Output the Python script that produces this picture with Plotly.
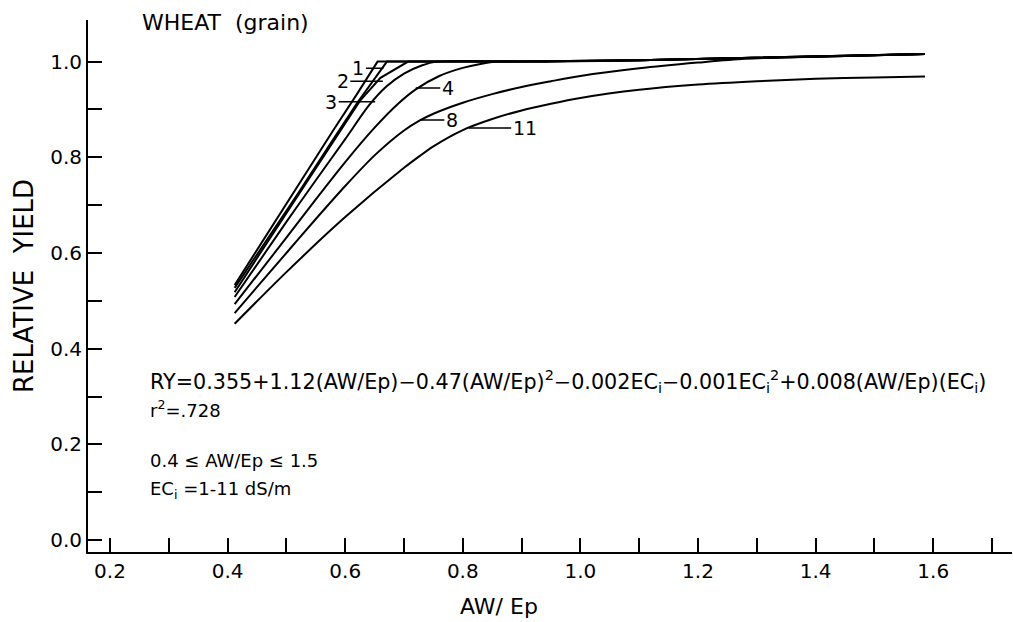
import plotly.graph_objects as go

# ---- data (AW/Ep vs relative yield) ----
curve_labels = ["1", "2", "3", "", "4", "8", "11"]

c1_x = [0.412, 0.46, 0.52, 0.58, 0.62, 0.655, 0.75, 0.9, 1.1, 1.3, 1.45, 1.586]
c1_y = [0.533, 0.626, 0.742, 0.857, 0.932, 1.0, 1.0, 1.0, 1.003, 1.008, 1.012, 1.016]

c2_x = [0.412, 0.46, 0.52, 0.58, 0.62, 0.671, 0.75, 0.9, 1.1, 1.3, 1.45, 1.586]
c2_y = [0.527, 0.615, 0.725, 0.838, 0.913, 1.0, 1.0, 1.0, 1.003, 1.008, 1.012, 1.016]

c3_x = [0.412, 0.46, 0.52, 0.58, 0.625, 0.66, 0.707, 0.8, 0.9, 1.1, 1.3, 1.45, 1.586]
c3_y = [0.518, 0.608, 0.720, 0.835, 0.918, 0.966, 1.0, 1.0, 1.0, 1.003, 1.008, 1.012, 1.016]

c4_x = [0.412, 0.5, 0.55, 0.6, 0.64, 0.67, 0.70, 0.73, 0.756, 0.9, 1.1, 1.3, 1.45, 1.586]
c4_y = [0.508, 0.665, 0.752, 0.838, 0.908, 0.948, 0.975, 0.992, 1.0, 1.0, 1.003, 1.008, 1.012, 1.016]

c5_x = [0.412, 0.5, 0.55, 0.6, 0.65, 0.69, 0.72, 0.76, 0.80, 0.83, 0.86, 0.95, 1.1, 1.3, 1.45, 1.586]
c5_y = [0.493, 0.632, 0.712, 0.790, 0.862, 0.912, 0.942, 0.970, 0.987, 0.995, 1.0, 1.0, 1.003, 1.008, 1.012, 1.016]

c6_x = [0.412, 0.5, 0.55, 0.6, 0.65, 0.7, 0.727, 0.75, 0.8, 0.85, 0.9, 0.95, 1.0, 1.1, 1.2, 1.28, 1.45, 1.586]
c6_y = [0.4745, 0.600, 0.671, 0.740, 0.804, 0.856, 0.877, 0.891, 0.914, 0.932, 0.947, 0.959, 0.970, 0.986, 0.998, 1.006, 1.012, 1.016]

c7_x = [0.412, 0.5, 0.6, 0.7, 0.727, 0.75, 0.8, 0.85, 0.9, 0.95, 1.0, 1.1, 1.2, 1.3, 1.4, 1.5, 1.586]
c7_y = [0.452, 0.560, 0.675, 0.778, 0.803, 0.823, 0.857, 0.880, 0.898, 0.912, 0.924, 0.941, 0.952, 0.959, 0.964, 0.967, 0.969]

curves_x = [c1_x, c2_x, c3_x, c4_x, c5_x, c6_x, c7_x]
curves_y = [c1_y, c2_y, c3_y, c4_y, c5_y, c6_y, c7_y]
curve_shapes = ["linear", "linear", "linear", "spline", "spline", "spline", "spline"]

# label leader tips (x, y) in data units and label offsets in px
label_points = [(0.665, 0.986), (0.664, 0.959), (0.651, 0.916), None, (0.720, 0.945), (0.727, 0.878), (0.810, 0.861)]
label_ax = [-25, -40, -44, 0, 32, 32, 56]

x_tick_vals = [0.2, 0.4, 0.6, 0.8, 1.0, 1.2, 1.4, 1.6]
y_tick_vals = [0.0, 0.2, 0.4, 0.6, 0.8, 1.0]

FONT = "DejaVu Sans"
W, H = 1013, 622
L, R, T, B = 88, 1, 20, 70
PW, PH = W - L - R, H - T - B


def px_to_paper(px, py):
    return (px - L) / PW, 1 - (py - T) / PH


fig = go.Figure()
for xs, ys, lab, shp in zip(curves_x, curves_y, curve_labels, curve_shapes):
    fig.add_trace(go.Scatter(x=xs, y=ys, mode="lines", name=lab or "EC",
                             line=dict(color="black", width=2, shape=shp, smoothing=0.8),
                             showlegend=False, hoverinfo="skip"))

for pt, lab, ax in zip(label_points, curve_labels, label_ax):
    if pt is None or not lab:
        continue
    fig.add_annotation(x=pt[0], y=pt[1], xref="x", yref="y", text=lab,
                       showarrow=True, arrowhead=0, arrowwidth=1.5, arrowcolor="black",
                       ax=ax, ay=0, standoff=0,
                       font=dict(family=FONT, size=19, color="black"))

tx, ty = px_to_paper(140, 23)
fig.add_annotation(x=tx, y=ty, xref="paper", yref="paper", xanchor="left", yanchor="middle",
                   text="WHEAT  (grain)", showarrow=False,
                   font=dict(family=FONT, size=22, color="black"))

eq_lines = [
    ("RY=0.355+1.12(AW/Ep)−0.47(AW/Ep)<sup>2</sup>−0.002EC<sub>i</sub>−0.001EC<sub>i</sub><sup>2</sup>+0.008(AW/Ep)(EC<sub>i</sub>)", 381, 20.7),
    ("r<sup>2</sup>=.728", 409, 18),
    ("0.4 ≤ AW/Ep ≤ 1.5", 460, 18),
    ("EC<sub>i</sub> =1-11 dS/m", 490, 18),
]
for txt, ypx, fs in eq_lines:
    ex, ey = px_to_paper(148, ypx)
    fig.add_annotation(x=ex, y=ey, xref="paper", yref="paper",
                       xanchor="left", yanchor="middle", text=txt, showarrow=False,
                       font=dict(family=FONT, size=fs, color="black"))

# axis titles
axx, axy = px_to_paper(499, 606)
fig.add_annotation(x=axx, y=axy, xref="paper", yref="paper", xanchor="center", yanchor="middle",
                   text="AW/ Ep", showarrow=False, font=dict(family=FONT, size=22, color="black"))
ayx, ayy = px_to_paper(24, 286)
fig.add_annotation(x=ayx, y=ayy, xref="paper", yref="paper", xanchor="center", yanchor="middle",
                   text="RELATIVE  YIELD", textangle=-90, showarrow=False,
                   font=dict(family=FONT, size=26, color="black"))

fig.update_xaxes(range=[0.1626, 1.734], tickvals=x_tick_vals, tickformat=".1f",
                 ticks="inside", ticklen=14, tickwidth=1.5, tickcolor="black",
                 minor=dict(tick0=0.3, dtick=0.2, ticks="inside", ticklen=14, tickwidth=1.5, tickcolor="black"),
                 showline=True, linecolor="black", linewidth=2, showgrid=False, zeroline=False,
                 automargin=False,
                 tickfont=dict(family=FONT, size=20, color="black"))
fig.update_yaxes(range=[-0.025, 1.087], tickvals=y_tick_vals, tickformat=".1f",
                 ticks="inside", ticklen=14, tickwidth=1.5, tickcolor="black",
                 minor=dict(tick0=0.1, dtick=0.2, ticks="inside", ticklen=14, tickwidth=1.5, tickcolor="black"),
                 showline=True, linecolor="black", linewidth=2, showgrid=False, zeroline=False,
                 automargin=False,
                 tickfont=dict(family=FONT, size=20, color="black"))

fig.update_layout(width=W, height=H, margin=dict(l=L, r=R, t=T, b=B, autoexpand=False),
                  paper_bgcolor="white", plot_bgcolor="white", showlegend=False)

fig.write_html("out.html", config={"displayModeBar": False},
               post_script="document.body.style.margin='0';document.body.style.overflow='hidden';")
